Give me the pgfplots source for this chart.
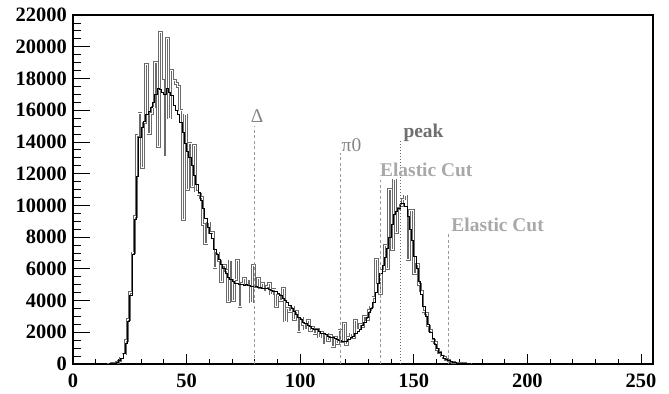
\documentclass[border=0pt]{standalone}
\usepackage{fontspec}
\setmainfont{Liberation Serif}
\usepackage{pgfplots}
\usepackage{pgfplotstable}
\pgfplotsset{compat=1.18}
\definecolor{gline}{HTML}{6A6A6A}
\definecolor{cutline}{HTML}{9A9A9A}
\definecolor{cuttext}{HTML}{A8A8A8}
\definecolor{peaktext}{HTML}{6E6E6E}
\definecolor{deltatext}{HTML}{858585}

\pgfplotstableread{
x b g
15 0 0
16 10 10
17 20 25
18 50 45
19 100 110
20 200 190
21 350 380
22 650 620
23 1300 1500
24 2700 2800
25 4300 4500
26 6900 7000
27 9100 9300
28 11800 14400
29 14300 15800
30 14900 12400
31 15300 15200
32 15700 18900
33 15900 14500
34 16200 15800
35 16500 16200
36 17000 19000
37 17400 13700
38 17300 20900
39 17100 17900
40 17000 13100
41 17400 20500
42 17100 15500
43 16900 18500
44 16300 17900
45 16000 17700
46 15700 17500
47 15200 16000
48 14600 9100
49 13900 15700
50 13400 11000
51 13000 13900
52 12500 11200
53 11900 13800
54 11300 10900
55 10800 10700
56 10300 10500
57 9800 8800
58 9200 7600
59 8600 8900
60 8200 8300
61 7900 8300
62 7200 6100
63 6900 7000
64 6600 6500
65 6300 5200
66 6000 6200
67 5700 5900
68 5450 3950
69 5300 6500
70 5200 4000
71 5100 5300
72 5050 6550
73 5000 3600
74 5000 5100
75 4950 5400
76 5000 5000
77 4950 5300
78 4900 3900
79 4900 6200
80 4880 4900
81 4850 5400
82 4800 4800
83 4780 5100
84 4750 4600
85 4750 4900
86 4700 5100
87 4650 4400
88 4600 4700
89 4550 3600
90 4450 4300
91 4300 4000
92 4150 4750
93 4000 2700
94 3850 3500
95 3700 3300
96 3500 3600
97 3300 2800
98 3100 3300
99 2950 2050
100 2800 2900
101 2650 2500
102 2550 2200
103 2450 2750
104 2350 2100
105 2250 2300
106 2200 1900
107 2150 2200
108 2050 1700
109 1950 2000
110 1900 1250
111 1850 1900
112 1750 1450
113 1700 1800
114 1650 1100
115 1600 1700
116 1550 1300
117 1500 2100
118 1450 1400
119 1400 2550
120 1450 1200
121 1550 1700
122 1650 1900
123 1750 1650
124 1900 2750
125 2050 2200
126 2200 2500
127 2400 2350
128 2650 3000
129 2950 2800
130 3250 3400
131 3500 3600
132 3900 4200
133 4500 6600
134 5100 5100
135 5700 4450
136 6200 5900
137 6700 7500
138 7300 6000
139 8000 11000
140 8800 7200
141 9400 11600
142 9600 8300
143 9800 9800
144 10100 10000
145 10100 10400
146 9900 10600
147 9300 6600
148 8500 9700
149 7800 9700
150 6800 5700
151 6000 6300
152 5200 5000
153 4400 4600
154 3600 3300
155 3000 3200
156 2500 2400
157 2000 2100
158 1600 1500
159 1250 1350
160 950 900
161 700 720
162 520 500
163 380 400
164 280 270
165 200 210
166 140 130
167 100 100
168 70 75
169 50 50
170 35 30
171 25 25
172 15 15
173 10 10
174 5 5
175 0 0
}\histdata

\begin{document}
\begin{tikzpicture}
\useasboundingbox (-73bp,-30bp) rectangle (596bp,364bp);
\begin{axis}[
  scale only axis, width=580bp, height=349bp,
  xmin=0, xmax=255.3, ymin=0, ymax=22000,
  axis line style={line width=1.6bp},
  tick align=inside,
  xtick pos=bottom, ytick pos=left,
  xtick={0,50,...,250}, minor x tick num=4,
  ytick={0,2000,...,22000}, minor y tick num=3,
  xtick style={black, line width=0.8bp, /pgfplots/major tick length=10bp, /pgfplots/minor tick length=5bp},
  ytick style={black, line width=0.8bp, /pgfplots/major tick length=16.7bp, /pgfplots/minor tick length=8.3bp},
  ticklabel style={font=\fontsize{20.5}{24}\selectfont\bfseries},
  x tick label style={inner sep=0pt, yshift=-10bp},
  y tick label style={inner sep=0pt, xshift=-6bp},
  scaled ticks=false,
  /pgf/number format/assume math mode=true,
  /pgf/number format/1000 sep={},
]
% noisy histogram: thick gray outline with white core
\addplot[const plot, draw=gline, line width=2.6bp, line join=miter] table[x=x, y=g] {\histdata};
\addplot[const plot, draw=white, line width=1.0bp, line join=miter] table[x=x, y=g] {\histdata};
% smooth histogram
\addplot[const plot, black, line width=0.9bp] table[x=x, y=b] {\histdata};
% marker lines
\addplot[cutline, line width=0.8bp, dash pattern=on 3bp off 2.5bp] coordinates {(80,0) (80,15000)};
\addplot[cutline, line width=0.8bp, dash pattern=on 3bp off 2.5bp] coordinates {(117.5,0) (117.5,13300)};
\addplot[cutline, line width=0.8bp, dash pattern=on 3bp off 2.5bp] coordinates {(135.1,0) (135.1,11600)};
\addplot[gline, line width=0.8bp, dash pattern=on 1bp off 2bp] coordinates {(144.2,0) (144.2,14120)};
\addplot[cutline, line width=0.8bp, dash pattern=on 3bp off 2.5bp] coordinates {(165.2,0) (165.2,8250)};
\node[anchor=base, inner sep=0pt, text=deltatext, font=\fontsize{19.5}{22}\selectfont] at (axis cs:81.0,15230) {Δ};
\node[anchor=base west, inner sep=0pt, text=deltatext, font=\fontsize{19.5}{22}\selectfont] at (axis cs:118.2,13380) {π0};
\node[anchor=base west, inner sep=0pt, text=cuttext, font=\fontsize{19.5}{22}\selectfont\bfseries] at (axis cs:135.1,11810) {Elastic Cut};
\node[anchor=base west, inner sep=0pt, text=peaktext, font=\fontsize{19.5}{22}\selectfont\bfseries] at (axis cs:145.4,14290) {peak};
\node[anchor=base west, inner sep=0pt, text=cuttext, font=\fontsize{19.5}{22}\selectfont\bfseries] at (axis cs:166.5,8380) {Elastic Cut};
\end{axis}
\end{tikzpicture}
\end{document}
